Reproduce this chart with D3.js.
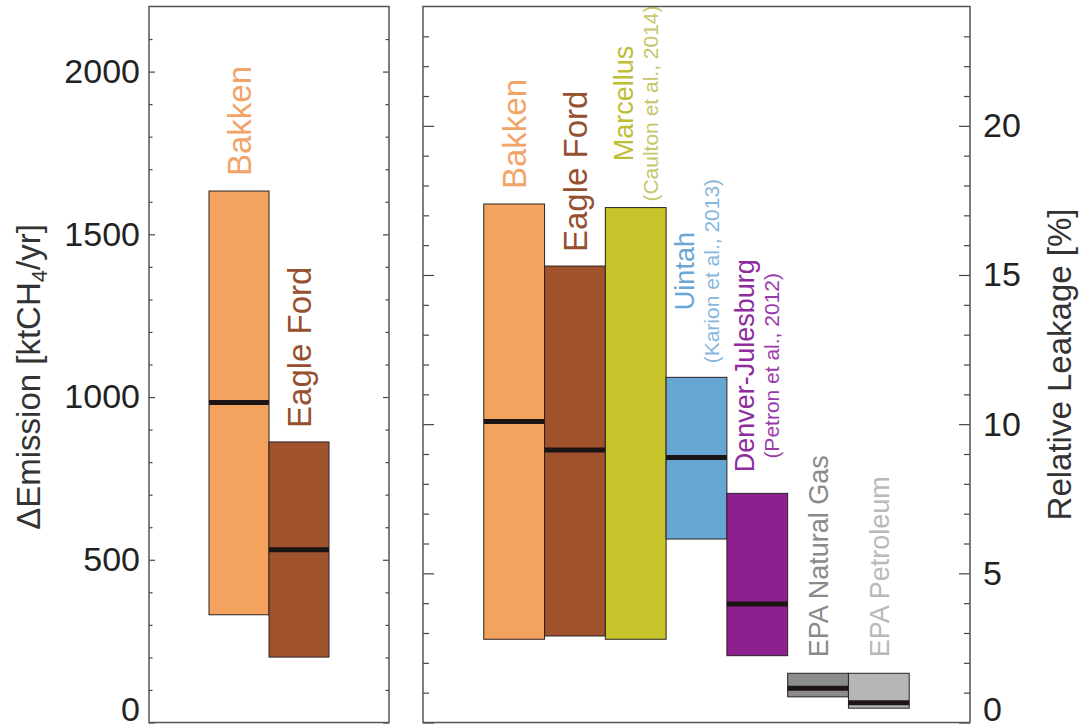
<!DOCTYPE html>
<html><head><meta charset="utf-8">
<script src="https://cdn.jsdelivr.net/npm/d3@7"></script>
<style>
body{margin:0;background:#fff}
svg{display:block}
text{font-family:"Liberation Sans",Arial,Helvetica,sans-serif}
</style>
</head><body>
<svg id="chart" width="1085" height="727"></svg>
<script>
// ---------- data ----------
const emissionCategories = ["Bakken", "Eagle Ford"];
const emissionLow    = [331, 201];
const emissionMedian = [983, 531];
const emissionHigh   = [1633, 862];

const leakageCategories = ["Bakken", "Eagle Ford", "Marcellus", "Uintah", "Denver-Julesburg", "EPA Natural Gas", "EPA Petroleum"];
const leakageCitations  = ["", "", "(Caulton et al., 2014)", "(Karion et al., 2013)", "(Petron et al., 2012)", "", ""];
const leakageLow    = [2.79, 2.90, 2.79, 6.15, 2.24, 0.86, 0.48];
const leakageMedian = [10.09, 9.13, null, 8.88, 3.97, 1.15, 0.66];
const leakageHigh   = [17.38, 15.30, 17.26, 11.57, 7.68, 1.65, 1.65];

const emissionTicks = [0, 500, 1000, 1500, 2000];
const leakageTicks  = [0, 5, 10, 15, 20];

// ---------- styles ----------
const barFill = {
  "Bakken": "#F4A35E", "Eagle Ford": "#A0522D", "Marcellus": "#C7C42B",
  "Uintah": "#66A6D2", "Denver-Julesburg": "#8E1F8F",
  "EPA Natural Gas": "#8C8C8C", "EPA Petroleum": "#B5B5B5"
};
const labelStyle = {
  "Bakken": {color: "#F2A468", size: 33, gap: 15},
  "Eagle Ford": {color: "#96502F", size: 33, gap: 14},
  "Marcellus": {color: "#BDBE36", cite: "#C6C66A", gap: 6},
  "Uintah": {color: "#6AA7D5", cite: "#88B7DC", gap: 14},
  "Denver-Julesburg": {color: "#8F2C9D", cite: "#9A3CA8", gap: 21},
  "EPA Natural Gas": {color: "#8A8A8A", size: 27, gap: 16},
  "EPA Petroleum": {color: "#B9B9B9", size: 27, gap: 16}
};

const svg = d3.select("#chart");

// ---------- scales ----------
const yTop = 6.5, yBottom = 722.5;
const yE = d3.scaleLinear().domain([0, 2200]).range([yBottom, yTop]);
const yL = d3.scaleLinear().domain([0, 24]).range([yBottom, yTop]);
const xE = d3.scaleLinear().domain([0, 4]).range([149, 389]);
const xL = d3.scaleLinear().domain([0, 9]).range([423, 970]);

function edgeTicks(axisFn, scale, xPos, majors, minors, majLen, minLen, withLabels, pad) {
  const gMin = svg.append("g").attr("transform", `translate(${xPos},0)`)
    .call(axisFn(scale).tickValues(minors).tickSize(-minLen).tickFormat(""));
  const gMaj = svg.append("g").attr("transform", `translate(${xPos},0)`)
    .call(axisFn(scale).tickValues(majors).tickSize(-majLen).tickPadding(pad)
      .tickFormat(withLabels ? d3.format("d") : ""));
  [gMin, gMaj].forEach(g => {
    g.select(".domain").remove();
    g.selectAll(".tick line").attr("stroke", "#444").attr("stroke-width", 1.2);
  });
  gMaj.selectAll(".tick text").attr("font-size", 34).attr("fill", "#222")
    .attr("font-family", '"Liberation Sans",Arial,Helvetica,sans-serif')
    .filter(d => d === 0).attr("dy", "-0.07em");
}

function drawBars(cats, low, med, high, x, y) {
  const g = svg.append("g");
  g.selectAll("rect").data(cats).join("rect")
    .attr("x", (d, i) => x(i + 1))
    .attr("width", (d, i) => x(i + 2) - x(i + 1))
    .attr("y", (d, i) => y(high[i]))
    .attr("height", (d, i) => y(low[i]) - y(high[i]))
    .attr("fill", d => barFill[d])
    .attr("stroke", "#2a2222").attr("stroke-width", 1);
  g.selectAll("line.med").data(cats.map((c, i) => ({c, i})).filter(o => med[o.i] != null))
    .join("line").attr("class", "med")
    .attr("x1", o => x(o.i + 1)).attr("x2", o => x(o.i + 2))
    .attr("y1", o => y(med[o.i])).attr("y2", o => y(med[o.i]))
    .attr("stroke", "#1d1414").attr("stroke-width", 5);
}

function drawLabels(cats, high, cites, x, y) {
  const g = svg.append("g");
  cats.forEach((c, i) => {
    const cx = (x(i + 1) + x(i + 2)) / 2;
    const t = y(high[i]);
    const st = labelStyle[c];
    const cite = cites ? cites[i] : "";
    if (cite) {
      const main = g.append("text").attr("font-size", 27).attr("fill", st.color)
        .attr("text-anchor", "middle").text(c);
      const sub = g.append("text").attr("font-size", 21).attr("fill", st.cite)
        .attr("text-anchor", "middle").text(cite);
      const L = Math.max(main.node().getComputedTextLength(), sub.node().getComputedTextLength());
      const cy = t - st.gap - L / 2;
      main.attr("transform", `translate(${cx - 3},${cy}) rotate(-90)`);
      sub.attr("transform", `translate(${cx + 22},${cy}) rotate(-90)`);
    } else {
      g.append("text").attr("font-size", st.size).attr("fill", st.color)
        .attr("text-anchor", "start").attr("dy", "0.36em")
        .attr("transform", `translate(${cx},${t - st.gap}) rotate(-90)`).text(c);
    }
  });
}

// ---------- left panel ----------
drawBars(emissionCategories, emissionLow, emissionMedian, emissionHigh, xE, yE);
drawLabels(emissionCategories, emissionHigh, null, xE, yE);
const eMinor = d3.range(0, 2200, 100).filter(v => v % 500 !== 0);
edgeTicks(d3.axisLeft, yE, 149, emissionTicks, eMinor, 6, 3.5, true, 9);
edgeTicks(d3.axisRight, yE, 389, emissionTicks, eMinor, 6, 3.5, false, 0);
svg.append("rect").attr("x", 149).attr("y", yTop).attr("width", 240).attr("height", yBottom - yTop)
  .attr("fill", "none").attr("stroke", "#555").attr("stroke-width", 1.5);

// ---------- right panel ----------
drawBars(leakageCategories, leakageLow, leakageMedian, leakageHigh, xL, yL);
drawLabels(leakageCategories, leakageHigh, leakageCitations, xL, yL);
const lMinor = d3.range(0, 24, 1).filter(v => v % 5 !== 0);
edgeTicks(d3.axisLeft, yL, 423, leakageTicks, lMinor, 11, 6, false, 0);
edgeTicks(d3.axisRight, yL, 970, leakageTicks, lMinor, 11, 6, true, 13);
svg.append("rect").attr("x", 423).attr("y", yTop).attr("width", 547).attr("height", yBottom - yTop)
  .attr("fill", "none").attr("stroke", "#555").attr("stroke-width", 1.5);

// ---------- axis titles ----------
const lt = svg.append("text").attr("font-size", 33).attr("fill", "#333").attr("text-anchor", "middle")
  .attr("transform", "translate(40,377) rotate(-90)");
lt.append("tspan").text("ΔEmission [ktCH");
lt.append("tspan").attr("font-size", 22).attr("dy", 6.6).text("4");
lt.append("tspan").attr("dy", -6.6).text("/yr]");

svg.append("text").attr("font-size", 33).attr("fill", "#333").attr("text-anchor", "middle")
  .attr("transform", "translate(1071,364.5) rotate(-90)").text("Relative Leakage [%]");
</script>
</body></html>
